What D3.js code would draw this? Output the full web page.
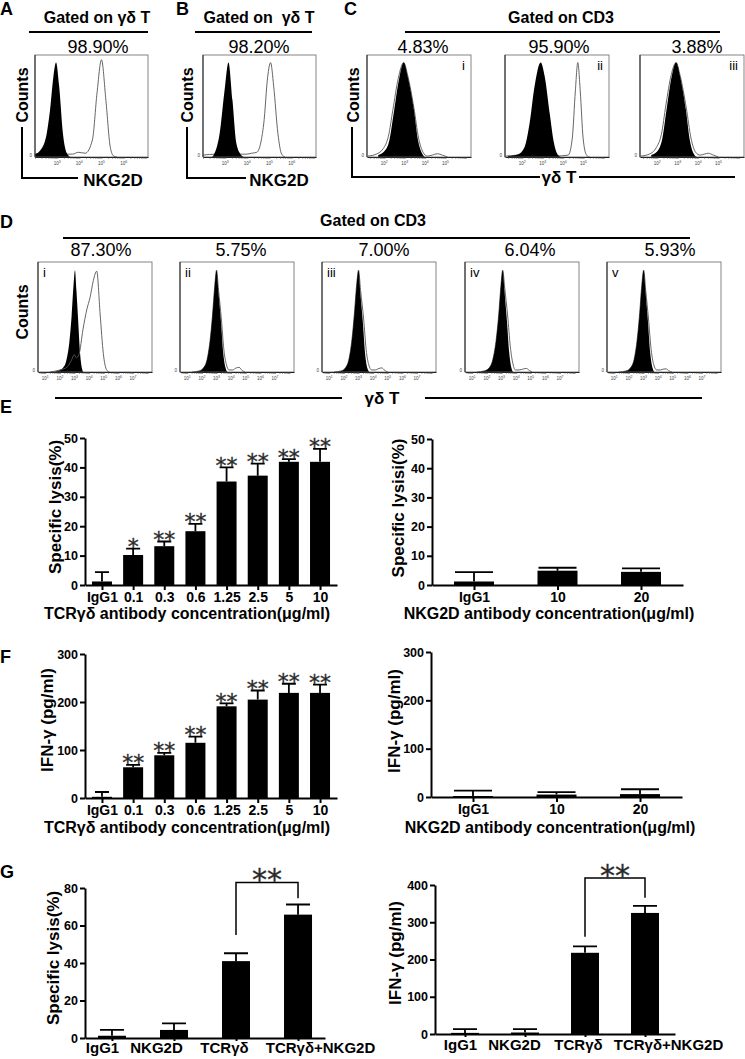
<!DOCTYPE html>
<html>
<head>
<meta charset="utf-8">
<script src="https://cdn.jsdelivr.net/npm/d3@7"></script>
<style>
  body { margin: 0; background: #fff; }
  svg { display: block; font-family: "Liberation Sans", Arial, sans-serif; }
  text { white-space: pre; }
</style>
</head>
<body>
<svg id="fig" width="745" height="1059"></svg>
<script>
const FONT = '"Liberation Sans", Arial, sans-serif';

// ---------- flow cytometry histograms: [log10 fluorescence, relative count] ----------
const aIso = [[2.0,0.03],[2.3,0.09],[2.53,0.25],[2.68,0.5],[2.83,0.85],[2.95,1.0],[3.09,0.75],[3.26,0.25],[3.44,0.04],[3.6,0]];
const aNkg = [[2.0,0.03],[2.5,0.04],[3.0,0.04],[3.4,0.03],[3.7,0.03],[3.95,0.05],[4.27,0.04],[4.59,0.18],[4.8,0.68],[5.0,1.03],[5.2,0.6],[5.4,0.1],[5.55,0.01],[5.7,0]];
const bIso = [[2.4,0],[2.5,0.03],[2.75,0.25],[2.97,0.7],[3.15,1.0],[3.33,0.6],[3.5,0.15],[3.72,0.02],[3.85,0]];
const bNkg = [[2.0,0.02],[2.6,0.03],[3.2,0.03],[3.7,0.03],[3.95,0.03],[4.2,0.04],[4.43,0.05],[4.74,0.35],[4.92,0.85],[5.05,1.0],[5.19,0.75],[5.38,0.25],[5.55,0.03],[5.7,0]];

const c1Iso = [[1.7,0.02],[2.0,0.06],[2.25,0.18],[2.45,0.45],[2.7,0.8],[2.95,1.0],[3.15,0.85],[3.45,0.5],[3.65,0.18],[3.85,0.04],[4.0,0]];
const c1Gd  = [[1.2,0.01],[1.6,0.03],[1.95,0.09],[2.2,0.22],[2.42,0.5],[2.68,0.83],[2.95,1.0],[3.15,0.86],[3.45,0.52],[3.68,0.2],[3.9,0.05],[4.1,0.01],[4.35,0.02],[4.6,0.035],[4.85,0.02],[5.1,0]];
const c2Iso = [[1.3,0.01],[1.8,0.03],[2.1,0.1],[2.35,0.35],[2.6,0.75],[2.9,1.0],[3.1,0.85],[3.35,0.45],[3.55,0.15],[3.75,0.02],[3.9,0]];
const c2Gd  = [[1.2,0.01],[2.0,0.02],[3.6,0.01],[4.25,0.02],[4.45,0.2],[4.6,0.7],[4.72,1.0],[4.84,0.7],[4.98,0.2],[5.15,0.02],[5.3,0]];
const c3Iso = [[1.7,0.02],[2.0,0.06],[2.25,0.2],[2.45,0.5],[2.7,0.85],[2.92,1.0],[3.12,0.85],[3.4,0.5],[3.6,0.17],[3.8,0.03],[3.95,0]];
const c3Gd  = [[1.2,0.01],[1.6,0.03],[1.95,0.1],[2.2,0.24],[2.42,0.55],[2.68,0.87],[2.92,1.0],[3.12,0.86],[3.42,0.52],[3.65,0.2],[3.88,0.05],[4.1,0.02],[4.3,0.03],[4.5,0.04],[4.75,0.02],[5.0,0]];

const d1Iso = [[1.3,0],[1.8,0.01],[2.2,0.04],[2.45,0.12],[2.65,0.3],[2.8,0.55],[2.93,0.85],[3.03,1.0],[3.13,0.8],[3.25,0.5],[3.37,0.2],[3.5,0.04],[3.6,0]];
const d1Gd  = [[1.3,0],[2.0,0.02],[2.5,0.05],[2.8,0.12],[2.98,0.17],[3.12,0.14],[3.3,0.17],[3.58,0.42],[3.85,0.62],[4.06,0.73],[4.29,0.9],[4.52,0.99],[4.75,0.57],[4.97,0.18],[5.2,0.02],[5.4,0]];
const d2Iso = [[1.3,0],[1.8,0.01],[2.1,0.04],[2.35,0.12],[2.55,0.3],[2.72,0.55],[2.88,0.85],[3.0,1.0],[3.12,0.8],[3.3,0.5],[3.45,0.2],[3.6,0.05],[3.75,0]];
const d2Gd  = [[1.3,0],[1.8,0.01],[2.1,0.04],[2.35,0.12],[2.55,0.3],[2.72,0.55],[2.88,0.85],[3.0,1.0],[3.14,0.8],[3.33,0.52],[3.5,0.22],[3.68,0.07],[3.85,0.02],[4.1,0.02],[4.35,0.04],[4.55,0.045],[4.75,0.015],[4.95,0]];
const d3Iso = [[1.3,0],[1.8,0.01],[2.1,0.04],[2.35,0.13],[2.55,0.32],[2.72,0.58],[2.88,0.87],[3.0,1.0],[3.12,0.78],[3.3,0.48],[3.45,0.18],[3.6,0.04],[3.75,0]];
const d3Gd  = [[1.3,0],[1.8,0.01],[2.1,0.04],[2.35,0.13],[2.55,0.32],[2.72,0.58],[2.88,0.87],[3.0,1.0],[3.14,0.8],[3.35,0.52],[3.52,0.22],[3.7,0.07],[3.9,0.02],[4.15,0.02],[4.4,0.035],[4.6,0.04],[4.8,0.015],[5.0,0]];
const d4Iso = [[1.3,0],[1.8,0.01],[2.15,0.04],[2.4,0.12],[2.62,0.3],[2.8,0.55],[2.96,0.85],[3.08,1.0],[3.2,0.8],[3.37,0.5],[3.52,0.2],[3.66,0.05],[3.8,0]];
const d4Gd  = [[1.3,0],[1.8,0.01],[2.15,0.04],[2.4,0.12],[2.62,0.3],[2.8,0.55],[2.96,0.85],[3.08,1.0],[3.22,0.82],[3.42,0.55],[3.6,0.25],[3.78,0.08],[3.95,0.02],[4.2,0.02],[4.5,0.03],[4.7,0.035],[4.9,0.015],[5.1,0]];
const d5Iso = [[1.3,0],[1.8,0.01],[2.1,0.04],[2.35,0.12],[2.55,0.3],[2.72,0.55],[2.88,0.85],[3.01,1.0],[3.13,0.8],[3.3,0.5],[3.45,0.2],[3.6,0.05],[3.75,0]];
const d5Gd  = [[1.3,0],[1.8,0.01],[2.1,0.04],[2.35,0.12],[2.55,0.3],[2.72,0.55],[2.88,0.85],[3.01,1.0],[3.15,0.8],[3.34,0.52],[3.52,0.22],[3.7,0.07],[3.9,0.02],[4.15,0.02],[4.4,0.03],[4.55,0.03],[4.75,0.01],[4.95,0]];

const pctAB = ['98.90%', '98.20%'];
const pctC = ['4.83%', '95.90%', '3.88%'];
const pctD = ['87.30%', '5.75%', '7.00%', '6.04%', '5.93%'];
const romans = ['i', 'ii', 'iii', 'iv', 'v'];

// ---------- bar charts ----------
const concCats = ['IgG1', '0.1', '0.3', '0.6', '1.25', '2.5', '5', '10'];
const nkgCats = ['IgG1', '10', '20'];
const blockCats = ['IgG1', 'NKG2D', 'TCRγδ', 'TCRγδ+NKG2D'];

const lysisTcr = [1.2, 10.2, 13.2, 18.3, 35.2, 37.2, 41.9, 41.9];
const lysisTcrErr = [4.4, 12.4, 14.8, 20.8, 40.0, 41.3, 42.8, 46.3];
const lysisTcrSig = ['', '*', '**', '**', '**', '**', '**', '**'];
const lysisNkg = [1.2, 4.9, 4.5];
const lysisNkgErr = [4.4, 5.9, 5.7];
const ifnTcr = [2.5, 64, 89, 115, 191, 205, 219, 219];
const ifnTcrErr = [12.5, 69, 94, 128, 197, 224, 238, 236];
const ifnTcrSig = ['', '**', '**', '**', '**', '**', '**', '**'];
const ifnNkg = [2, 5, 6];
const ifnNkgErr = [13, 10, 16];
const lysisBlock = [1.2, 4.3, 41, 65.8];
const lysisBlockErr = [4.3, 7.8, 45.2, 71.2];
const ifnBlock = [3, 4, 218, 325];
const ifnBlockErr = [13, 13, 235, 344];

const lysisTicks = [0, 10, 20, 30, 40, 50];
const ifnTicks = [0, 100, 200, 300];
const blockLysisTicks = [0, 20, 40, 60, 80];
const blockIfnTicks = [0, 100, 200, 300, 400];

// significance brackets (data units): bar level, left leg end, right leg end
const lysisBracket = { from: 'TCRγδ', to: 'TCRγδ+NKG2D', top: 83, legs: [55, 74.5], sig: '**' };
const ifnBracket = { from: 'TCRγδ', to: 'TCRγδ+NKG2D', top: 419, legs: [261, 366], sig: '**' };

const svg = d3.select('#fig');

function txt(x, y, s, o = {}) {
  const t = svg.append('text')
    .attr('x', x).attr('y', y)
    .attr('font-size', o.size || 14)
    .attr('font-weight', o.bold ? 'bold' : 'normal')
    .attr('text-anchor', o.anchor || 'middle')
    .attr('fill', o.fill || '#000')
    .text(s);
  if (o.rot) t.attr('x', 0).attr('y', 0).attr('dy', '0.35em').attr('transform', `translate(${x},${y}) rotate(-90)`);
  return t;
}

function rule(d, w) {
  svg.append('path').attr('d', d).attr('fill', 'none').attr('stroke', '#000').attr('stroke-width', w || 2);
}

// asterisks kept as text; a thin stroke keeps them neutral grey
function stars(g, x, y, s, size) {
  g.append('text').attr('x', x).attr('y', y)
    .attr('text-anchor', 'middle').attr('font-size', size)
    .attr('fill', '#2a2a2a').attr('stroke', '#2a2a2a').attr('stroke-width', 0.3)
    .attr('font-family', '"DejaVu Sans", sans-serif').text(s);
}

// ---------- histogram panel ----------
function histo(o) {
  const g = svg.append('g');
  const x = d3.scaleLog().domain([10 ** o.dom[0], 10 ** o.dom[1]]).range([o.x, o.x + o.w]);
  const y = d3.scaleLinear().domain([0, 1.08]).range([o.y + o.h, o.y]);
  const px = d => x(10 ** d[0]);
  const area = d3.area().x(px).y0(y(0)).y1(d => y(d[1])).curve(d3.curveMonotoneX);
  const line = d3.line().x(px).y(d => y(d[1])).curve(d3.curveMonotoneX);
  const outline = () => g.append('path').datum(o.open).attr('d', line)
    .attr('fill', 'none').attr('stroke', '#555').attr('stroke-width', 0.9);
  if (!o.lineOnTop) outline();
  g.append('path').datum(o.filled).attr('d', area).attr('fill', '#000');
  if (o.lineOnTop) outline();

  g.append('rect').attr('x', o.x).attr('y', o.y).attr('width', o.w).attr('height', o.h)
    .attr('fill', 'none').attr('stroke', '#666').attr('stroke-width', 0.8);
  g.append('line').attr('x1', o.x).attr('x2', o.x).attr('y1', o.y).attr('y2', o.y + o.h)
    .attr('stroke', '#222').attr('stroke-width', 1);

  const ax = g.append('g').attr('transform', `translate(0,${o.y + o.h})`)
    .call(d3.axisBottom(x).tickSize(2).tickSizeOuter(0).tickFormat(''));
  ax.select('.domain').attr('stroke', '#222').attr('stroke-width', 1);
  ax.selectAll('.tick line').attr('stroke', '#444').attr('stroke-width', 0.5);

  o.labels.forEach(e => {
    const t = g.append('text').attr('x', x(10 ** e)).attr('y', o.y + o.h + 8)
      .attr('text-anchor', 'middle').attr('font-size', 4.5).attr('fill', '#444');
    t.append('tspan').text('10');
    t.append('tspan').attr('dy', -2).attr('font-size', 3.5).text(e);
  });
  g.append('text').attr('x', o.x - 3).attr('y', o.y + o.h).attr('text-anchor', 'end')
    .attr('font-size', 4.5).attr('fill', '#444').text('0');

  if (o.tag) {
    const right = o.tagSide === 'right';
    g.append('text').attr('x', right ? o.x + o.w - 6 : o.x + 5).attr('y', o.y + 15)
      .attr('text-anchor', right ? 'end' : 'start').attr('font-size', 13).text(o.tag);
  }
}

// ---------- bar chart panel ----------
function bars(o) {
  const g = svg.append('g');
  const x = d3.scalePoint().domain(o.cats).range([o.x0, o.x1]).padding(o.pad);
  const y = d3.scaleLinear().domain([0, o.ymax]).range([o.yb, o.yt]);
  const rows = o.cats.map((c, i) => ({ c, v: o.vals[i], e: o.errs[i], s: o.sig ? o.sig[i] : '' }));

  g.selectAll('.eb').data(rows).join('path')
    .attr('d', d => `M${x(d.c)},${y(d.v)}V${y(d.e)}M${x(d.c) - o.capW / 2},${y(d.e)}H${x(d.c) + o.capW / 2}`)
    .attr('fill', 'none').attr('stroke', '#000').attr('stroke-width', 1.8);
  g.selectAll('.bar').data(rows).join('rect')
    .attr('x', d => x(d.c) - o.barW / 2).attr('y', d => y(d.v))
    .attr('width', o.barW).attr('height', d => y(0) - y(d.v)).attr('fill', '#000');

  const ya = g.append('g').attr('transform', `translate(${o.x0},0)`)
    .call(d3.axisLeft(y).tickValues(o.ticks).tickSize(5).tickSizeOuter(0).tickPadding(2));
  const xa = g.append('g').attr('transform', `translate(0,${o.yb})`)
    .call(d3.axisBottom(x).tickSize(o.xTick).tickSizeOuter(0).tickPadding(o.xPad));
  ya.attr('font-size', 12.5);
  xa.attr('font-size', o.xFont);
  [ya, xa].forEach(a => {
    a.attr('font-family', FONT).attr('font-weight', 'bold');
    a.selectAll('path, line').attr('stroke', '#000').attr('stroke-width', 2);
    a.selectAll('text').attr('fill', '#000');
  });
  if (o.labelShift) xa.selectAll('.tick text').attr('x', (d, i) => o.labelShift[i]);

  const sf = o.starSize;
  rows.filter(d => d.s).forEach(d => stars(g, x(d.c), y(d.e) - o.starGap + 0.57 * sf, d.s, sf));

  if (o.bracket) {
    const b = o.bracket, xa1 = x(b.from), xb1 = x(b.to);
    g.append('path')
      .attr('d', `M${xa1},${y(b.legs[0])}V${y(b.top)}H${xb1}V${y(b.legs[1])}`)
      .attr('fill', 'none').attr('stroke', '#000').attr('stroke-width', 1.5);
    stars(g, (xa1 + xb1) / 2, y(b.top) - 9 + 0.57 * 30, b.sig, 30);
  }

  txt(o.yTitle[0], o.yTitle[1], o.yLabel, { size: 17, bold: true, rot: true });
  if (o.xLabel) txt(o.xTitle[0], o.xTitle[1], o.xLabel, { size: 16, bold: true });
}

// ---------- A / B / C ----------
txt(0, 15, 'A', { size: 18, bold: true, anchor: 'start' });
txt(176, 15, 'B', { size: 18, bold: true, anchor: 'start' });
txt(344, 15, 'C', { size: 18, bold: true, anchor: 'start' });

txt(97, 23, 'Gated on γδ T', { size: 16, bold: true });
txt(259, 23, 'Gated on  γδ T', { size: 16, bold: true });
txt(561, 23, 'Gated on CD3', { size: 16, bold: true });
rule('M29,32H148'); rule('M195,32H312'); rule('M405,32H720');

txt(98, 53, pctAB[0], { size: 18 });
txt(259, 53, pctAB[1], { size: 18 });
[423, 559, 697].forEach((cx, i) => txt(cx, 53, pctC[i], { size: 18 }));

histo({ x: 35, y: 55, w: 113, h: 102, dom: [2.0, 7.1], labels: [3, 4, 5, 6], filled: aIso, open: aNkg });
histo({ x: 203, y: 55, w: 113, h: 102, dom: [2.0, 7.1], labels: [3, 4, 5, 6], filled: bIso, open: bNkg });
[[367, c1Iso, c1Gd], [505, c2Iso, c2Gd], [640, c3Iso, c3Gd]].forEach((p, i) =>
  histo({ x: p[0], y: 55, w: 104, h: 102, dom: [1.15, 6.25], labels: [2, 3, 4, 5],
          filled: p[1], open: p[2], tag: romans[i], tagSide: 'right' }));

txt(22, 95, 'Counts', { size: 16, bold: true, rot: true });
txt(187, 95, 'Counts', { size: 16, bold: true, rot: true });
txt(353, 95, 'Counts', { size: 16, bold: true, rot: true });
rule('M22,127V178H78'); rule('M187,127V178H246'); rule('M352,127V177H540'); rule('M579,177H735');
txt(113, 186, 'NKG2D', { size: 17, bold: true });
txt(279, 186, 'NKG2D', { size: 17, bold: true });
txt(559, 183, 'γδ T', { size: 17, bold: true });

// ---------- D ----------
txt(0, 228, 'D', { size: 18, bold: true, anchor: 'start' });
txt(373, 226, 'Gated on CD3', { size: 16, bold: true });
rule('M63,238H690');
const dXs = [38, 180, 322, 465, 607];
const dPct = [101, 241, 384, 530, 670];
const dData = [[d1Iso, d1Gd], [d2Iso, d2Gd], [d3Iso, d3Gd], [d4Iso, d4Gd], [d5Iso, d5Gd]];
dXs.forEach((bx, i) => {
  txt(dPct[i], 256, pctD[i], { size: 18 });
  histo({ x: bx, y: 262, w: 114, h: 110, dom: [0.5, 8.3], labels: [1, 2, 3, 4, 5, 6, 7],
          filled: dData[i][0], open: dData[i][1], tag: romans[i], tagSide: 'left', lineOnTop: i === 0 });
});
txt(22, 312, 'Counts', { size: 16, bold: true, rot: true });
rule('M55,398H342'); rule('M425,398H702');
txt(382, 404, 'γδ T', { size: 17, bold: true });

// ---------- E ----------
txt(0, 413, 'E', { size: 18, bold: true, anchor: 'start' });
bars({ cats: concCats, vals: lysisTcr, errs: lysisTcrErr, sig: lysisTcrSig,
       x0: 85, x1: 337, pad: 0.545, yb: 585, yt: 438, ymax: 50, ticks: lysisTicks,
       barW: 20, capW: 14, xTick: 5, xPad: 2, xFont: 14, starSize: 22, starGap: 7,
       yLabel: 'Specific lysis(%)', yTitle: [55, 507],
       xLabel: 'TCRγδ antibody concentration(μg/ml)', xTitle: [187, 619] });
bars({ cats: nkgCats, vals: lysisNkg, errs: lysisNkgErr,
       x0: 432, x1: 683, pad: 0.503, yb: 585, yt: 439, ymax: 50, ticks: lysisTicks,
       barW: 40, capW: 38, xTick: 5, xPad: 2, xFont: 14, starSize: 22, starGap: 7,
       yLabel: 'Specific lysisi(%)', yTitle: [398, 508],
       xLabel: 'NKG2D antibody concentration(μg/ml)', xTitle: [549, 619] });

// ---------- F ----------
txt(0, 663, 'F', { size: 18, bold: true, anchor: 'start' });
bars({ cats: concCats, vals: ifnTcr, errs: ifnTcrErr, sig: ifnTcrSig,
       x0: 85, x1: 337, pad: 0.545, yb: 798, yt: 654, ymax: 300, ticks: ifnTicks,
       barW: 20, capW: 14, xTick: 5, xPad: 2, xFont: 14, starSize: 22, starGap: 7,
       yLabel: 'IFN-γ (pg/ml)', yTitle: [47, 720],
       xLabel: 'TCRγδ antibody concentration(μg/ml)', xTitle: [187, 833] });
bars({ cats: nkgCats, vals: ifnNkg, errs: ifnNkgErr,
       x0: 431, x1: 682, pad: 0.503, yb: 797, yt: 652, ymax: 300, ticks: ifnTicks,
       barW: 40, capW: 38, xTick: 5, xPad: 2, xFont: 14, starSize: 22, starGap: 7,
       yLabel: 'IFN-γ (pg/ml)', yTitle: [394, 721],
       xLabel: 'NKG2D antibody concentration(μg/ml)', xTitle: [550, 833] });

// ---------- G ----------
txt(0, 878, 'G', { size: 18, bold: true, anchor: 'start' });
bars({ cats: blockCats, vals: lysisBlock, errs: lysisBlockErr, bracket: lysisBracket,
       x0: 85, x1: 325, pad: 0.435, yb: 1038, yt: 888, ymax: 80, ticks: blockLysisTicks,
       barW: 28, capW: 24, xTick: 3, xPad: 1, xFont: 15, starSize: 30, starGap: 7,
       labelShift: [-10, -18, -12, 22],
       yLabel: 'Specific lysis(%)', yTitle: [53, 958] });
bars({ cats: blockCats, vals: ifnBlock, errs: ifnBlockErr, bracket: ifnBracket,
       x0: 435, x1: 675, pad: 0.5, yb: 1034, yt: 885, ymax: 400, ticks: blockIfnTicks,
       barW: 28, capW: 24, xTick: 3, xPad: 2, xFont: 15, starSize: 30, starGap: 7,
       labelShift: [-5, -11, -7, 23],
       yLabel: 'IFN-γ (pg/ml)', yTitle: [395, 953] });
</script>
</body>
</html>
